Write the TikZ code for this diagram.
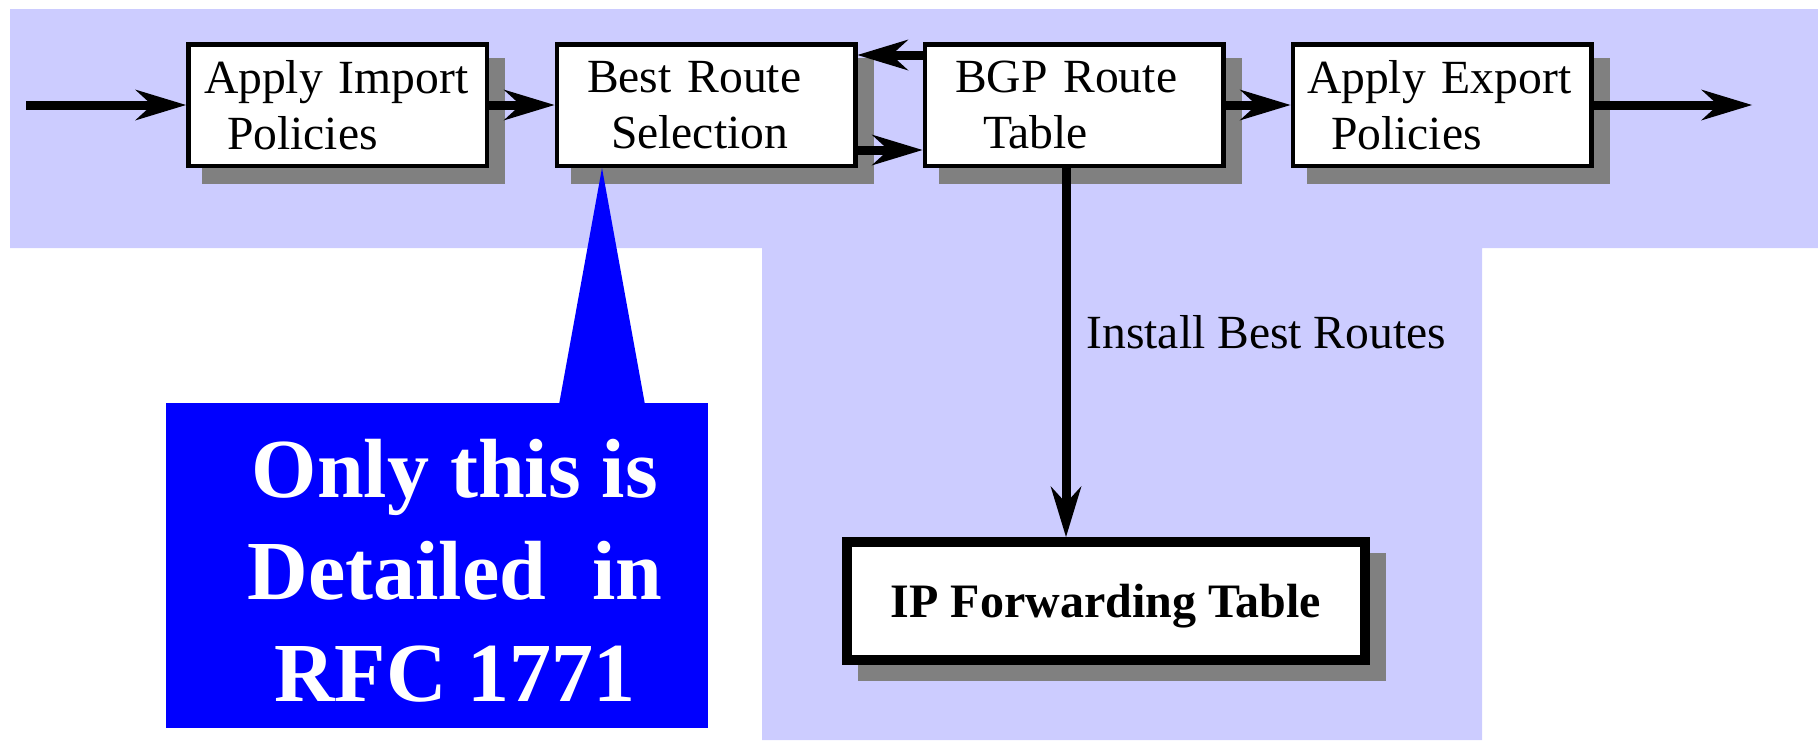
\documentclass[tikz,border=0pt]{standalone}
\usepackage{fontspec}
\setmainfont{Liberation Serif}
\usetikzlibrary{arrows.meta,shadows}
\definecolor{bandblue}{HTML}{CCCCFF}
\definecolor{shadegray}{HTML}{808080}
\definecolor{callblue}{HTML}{0000FF}
\begin{document}
\begin{tikzpicture}[x=0.5pt,y=-0.5pt,
  pbox/.style={draw=black, line width=2.25pt, fill=white,
    minimum width=149.25pt, minimum height=60.75pt, inner sep=0pt,
    align=left, font=\fontsize{23.8pt}{28pt}\selectfont,
    general shadow={fill=shadegray, draw=shadegray, line width=2.25pt,
      shadow xshift=8pt, shadow yshift=-8pt}},
  ipbox/.style={draw=black, line width=5pt, fill=white,
    minimum width=259pt, minimum height=59pt, inner sep=0pt,
    text depth=0pt, font=\fontsize{24pt}{28pt}\selectfont\bfseries,
    general shadow={fill=shadegray, draw=shadegray, line width=5pt,
      shadow xshift=8pt, shadow yshift=-8pt}},
  callbox/.style={fill=callblue, minimum width=271pt, minimum height=162.5pt,
    inner sep=0pt, text=white, align=center,
    font=\fontsize{42pt}{51pt}\selectfont\bfseries},
  arr/.style={line width=4.5pt,
    -{Stealth[length=25.5pt, width=15.5pt, inset=8.5pt, line width=0pt]}},
  lbl/.style={font=\fontsize{23.8pt}{28pt}\selectfont, inner sep=0pt}
]
\useasboundingbox (0,0) rectangle (1818,740);
% background band
\fill[bandblue] (10,9) -- (1818,9) -- (1818,248) -- (1482,248) -- (1482,740)
  -- (762,740) -- (762,248) -- (10,248) -- cycle;

% boxes
\node[pbox, text width=133.5pt] (imp) at (337.5,105) {Apply Import\\\hspace*{11.5pt}Policies};
\node[pbox, text width=119pt] (best) at (706,105) {Best Route\\\hspace*{12pt}Selection};
\node[pbox, text width=119pt] (bgp) at (1074,105) {BGP Route\\\hspace*{14pt}Table};
\node[pbox, text width=135pt] (exp) at (1442,105) {Apply Export\\\hspace*{12pt}Policies};
\node[ipbox] (ip) at (1106,601) {IP Forwarding Table};

% callout
\node[callbox] (note) at (437,565.5) {\rule{0pt}{34pt}\hspace*{18pt}Only this is\\
  \hspace*{18pt}Detailed\hspace{23pt}in\\
  \hspace*{18pt}RFC 1771};
\fill[callblue] ([xshift=-52pt]best.south) -- ([xshift=61pt,yshift=-1pt]note.north)
  -- ([xshift=104pt,yshift=-1pt]note.north) -- cycle;

% connectors
\coordinate (src) at (26,105);
\coordinate (dst) at (1752,105);
\draw[arr] (src) -- (imp.west);
\draw[arr] (imp.east) -- (best.west);
\draw[arr] ([yshift=25pt]bgp.west) -- ([yshift=25pt]best.east);
\draw[arr] ([yshift=-22.5pt]best.east) -- ([yshift=-22.5pt]bgp.west);
\draw[arr] (bgp.east) -- (exp.west);
\draw[arr] (exp.east) -- (dst);
\draw[arr] ([xshift=-4pt]bgp.south) -- node[lbl, pos=0.488, anchor=base west, xshift=8pt] (lblinst) {Install Best Routes} ([xshift=-4pt]bgp.south |- ip.north);
\end{tikzpicture}
\end{document}
